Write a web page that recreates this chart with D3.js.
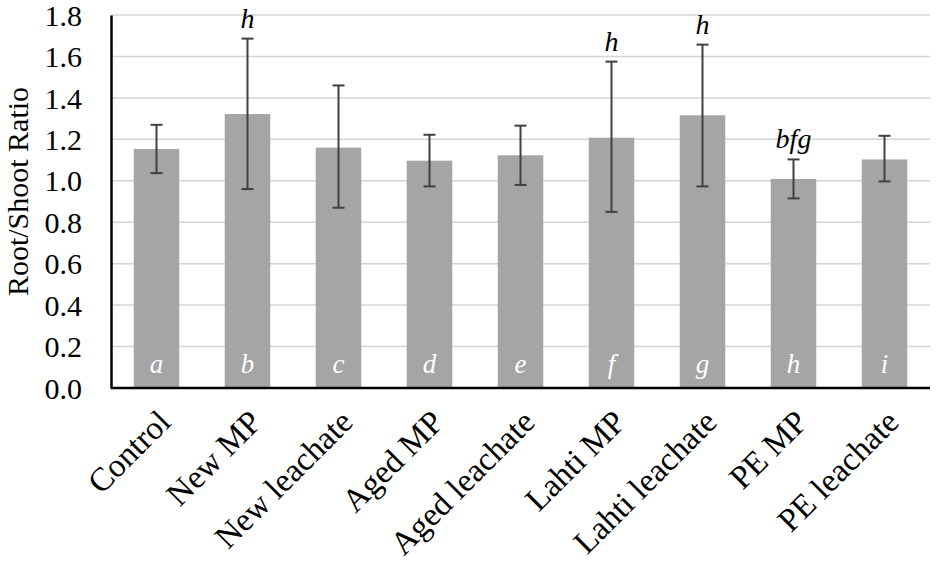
<!DOCTYPE html>
<html>
<head>
<meta charset="utf-8">
<script src="https://cdn.jsdelivr.net/npm/d3@7"></script>
<style>
  body { margin: 0; background: #fff; }
  svg text { font-family: "Liberation Serif", "Times New Roman", serif !important; }
</style>
</head>
<body>
<div id="chart"></div>
<script>
// Data
const categories = ['Control', 'New MP', 'New leachate', 'Aged MP', 'Aged leachate',
    'Lahti MP', 'Lahti leachate', 'PE MP', 'PE leachate'];
const means = [1.153, 1.322, 1.16, 1.097, 1.123, 1.208, 1.316, 1.009, 1.103];
const errLow = [1.037, 0.96, 0.87, 0.973, 0.98, 0.85, 0.973, 0.915, 0.997];
const errHigh = [1.27, 1.686, 1.46, 1.222, 1.266, 1.575, 1.657, 1.103, 1.217];
const barLetters = ['a', 'b', 'c', 'd', 'e', 'f', 'g', 'h', 'i'];
const sigLetters = ['', 'h', '', '', '', 'h', 'h', 'bfg', ''];
const yTicks = [0, 0.2, 0.4, 0.6, 0.8, 1.0, 1.2, 1.4, 1.6, 1.8];

const width = 936, height = 562;
const margin = { top: 15, right: 6, bottom: 174, left: 111 };

const svg = d3.select('#chart')
    .append('svg')
    .attr('width', width)
    .attr('height', height)
    .style('font-family', '"Liberation Serif", serif');

const x = d3.scaleBand()
    .domain(categories)
    .range([margin.left, width - margin.right])
    .paddingInner(0.5)
    .paddingOuter(0.25);

const y = d3.scaleLinear()
    .domain([0, 1.8])
    .range([height - margin.bottom, margin.top]);

// gridlines
svg.append('g')
    .selectAll('line')
    .data(yTicks.slice(1))
    .join('line')
    .attr('x1', margin.left)
    .attr('x2', width - margin.right)
    .attr('y1', d => y(d))
    .attr('y2', d => y(d))
    .attr('stroke', '#d4d4d4')
    .attr('stroke-width', 1.5);

// bars
svg.append('g')
    .selectAll('rect')
    .data(means)
    .join('rect')
    .attr('x', (d, i) => x(categories[i]))
    .attr('y', d => y(d))
    .attr('width', x.bandwidth())
    .attr('height', d => y(0) - y(d))
    .attr('fill', '#a5a5a5');

// error bars
const err = svg.append('g')
    .attr('stroke', '#404040')
    .attr('stroke-width', 2);

categories.forEach((c, i) => {
    const cx = x(c) + x.bandwidth() / 2;
    err.append('line')
        .attr('x1', cx).attr('x2', cx)
        .attr('y1', y(errLow[i])).attr('y2', y(errHigh[i]));
    err.append('line')
        .attr('x1', cx - 6).attr('x2', cx + 6)
        .attr('y1', y(errLow[i])).attr('y2', y(errLow[i]));
    err.append('line')
        .attr('x1', cx - 6).attr('x2', cx + 6)
        .attr('y1', y(errHigh[i])).attr('y2', y(errHigh[i]));
});

// letters inside bars
svg.append('g')
    .selectAll('text')
    .data(barLetters)
    .join('text')
    .attr('x', (d, i) => x(categories[i]) + x.bandwidth() / 2)
    .attr('y', y(0) - 15)
    .attr('text-anchor', 'middle')
    .attr('fill', '#fff')
    .attr('font-style', 'italic')
    .attr('font-size', '27px')
    .text(d => d);

// significance letters above error bars
svg.append('g')
    .selectAll('text')
    .data(sigLetters)
    .join('text')
    .attr('x', (d, i) => x(categories[i]) + x.bandwidth() / 2)
    .attr('y', (d, i) => y(errHigh[i]) - 11)
    .attr('text-anchor', 'middle')
    .attr('fill', '#000')
    .attr('font-style', 'italic')
    .attr('font-size', '28px')
    .text(d => d);

// y axis
const yAxis = svg.append('g')
    .attr('transform', `translate(${margin.left},0)`)
    .call(d3.axisLeft(y).tickValues(yTicks).tickFormat(d3.format('.1f')).tickSize(0).tickPadding(29));
yAxis.attr('font-family', null);
yAxis.select('.domain').attr('stroke', '#000').attr('stroke-width', 2.5);
yAxis.selectAll('text')
    .attr('font-size', '30px')
    .attr('fill', '#000')
    .attr('dy', '0.34em');

// x axis
const xAxis = svg.append('g')
    .attr('transform', `translate(0,${y(0)})`)
    .call(d3.axisBottom(x).tickSize(0).tickFormat(''));
xAxis.select('.domain')
    .attr('d', `M${margin.left},0H${width - margin.right}`)
    .attr('stroke', '#000').attr('stroke-width', 2.5);

svg.append('g')
    .selectAll('text')
    .data(categories)
    .join('text')
    .attr('transform', d => `translate(${x(d) + x.bandwidth() / 2 + 16},${y(0) + 36}) rotate(-45)`)
    .attr('text-anchor', 'end')
    .attr('font-size', '33px')
    .attr('fill', '#000')
    .text(d => d);

// y axis title
svg.append('text')
    .attr('transform', `translate(28,${(margin.top + y(0)) / 2 - 10}) rotate(-90)`)
    .attr('text-anchor', 'middle')
    .attr('font-size', '30px')
    .attr('fill', '#000')
    .text('Root/Shoot Ratio');
</script>
</body>
</html>
